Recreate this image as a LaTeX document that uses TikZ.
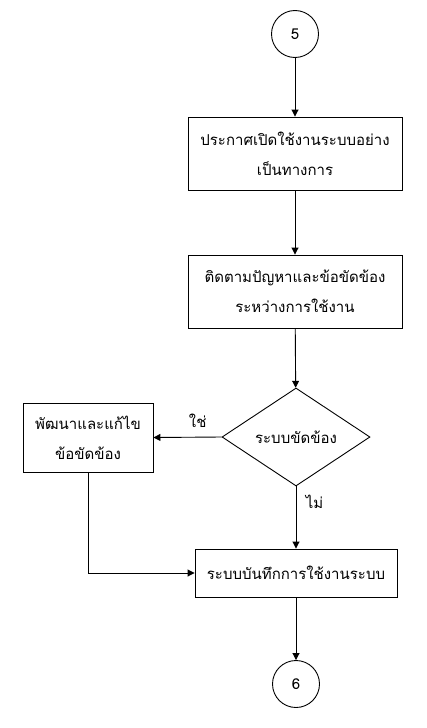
\documentclass[tikz,border=0pt]{standalone}
\usepackage{fontspec}
\newfontfamily\thaifont[Script=Thai]{Loma}
\usetikzlibrary{shapes.geometric,arrows.meta}
\tikzset{
  stepbox/.style={draw, minimum width=214pt, minimum height=73pt, align=center, inner sep=2pt},
  conn/.style={draw, circle, minimum size=47pt, inner sep=0pt},
  decide/.style={draw, diamond, minimum width=148pt, minimum height=98pt, inner sep=0pt},
  flow/.style={-{Triangle[width=7pt,length=7pt]}}
}
\begin{document}
\begin{tikzpicture}[x=1pt,y=1pt,line width=0.9pt,font=\thaifont\fontsize{15}{30}\selectfont]
  \useasboundingbox (0,0) rectangle (426,-728);

  \node[conn] (c5) at (295,-34) {5};
  \node[stepbox] (announce) at (295,-153.5) {ประกาศเปิดใช้งานระบบอย่าง\\เป็นทางการ};
  \node[stepbox] (track) at (295,-291.5) {ติดตามปัญหาและข้อขัดข้อง\\ระหว่างการใช้งาน};
  \node[decide] (fault) at (296,-437) {ระบบขัดข้อง};
  \node[stepbox, minimum width=130pt, minimum height=69pt] (fix) at (88,-437.5) {พัฒนาและแก้ไข\\ข้อขัดข้อง};
  \node[stepbox, minimum width=202pt, minimum height=48pt] (log) at (296,-573) {ระบบบันทึกการใช้งานระบบ};
  \node[conn] (c6) at (296,-684) {6};

  \draw[flow] (c5) -- (announce);
  \draw[flow] (announce) -- (track);
  \draw[flow] (track) -- (fault);
  \draw[flow] (fault.west) -- (fix.east) node[pos=0.35, above=6pt] {ใช่};
  \draw[flow] (fault) -- (log) node[pos=0.25, right=6pt] {ไม่};
  \draw[flow] (fix.south) |- (log.west);
  \draw[flow] (log) -- (c6);
\end{tikzpicture}
\end{document}
